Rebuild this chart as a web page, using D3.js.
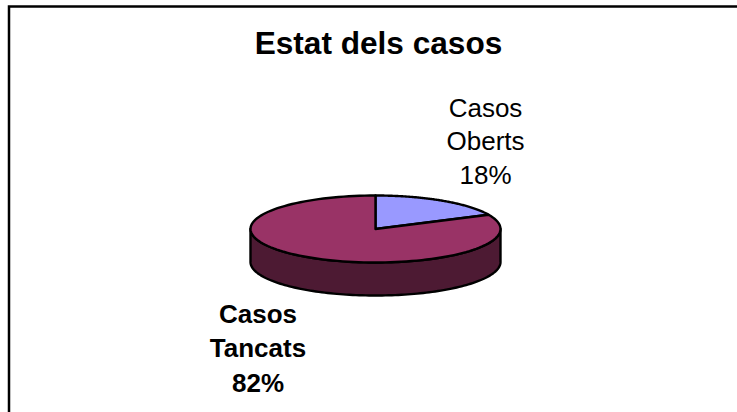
<!DOCTYPE html>
<html><head><meta charset="utf-8">
<style>html,body{margin:0;padding:0;background:#fff}svg{display:block}</style>
<script src="https://cdn.jsdelivr.net/npm/d3@7/dist/d3.min.js"></script></head>
<body><svg id="c" width="737" height="412"></svg>
<script>
const categories = ["Casos Oberts", "Casos Tancats"];
const values = [18, 82];
const percentLabels = ["18%", "82%"];
const title = "Estat dels casos";
const colors = ["#9999ff", "#993366"];
const sideColor = "#4d1a33";

const svg = d3.select("#c");
svg.append("rect").attr("x",9).attr("y",6.5).attr("width",760).attr("height",420)
  .attr("fill","#fff").attr("stroke","#000").attr("stroke-width",2.5);
svg.append("text").attr("x",378.5).attr("y",53.5).attr("text-anchor","middle")
  .attr("font-family","Liberation Sans").attr("font-weight","bold").attr("font-size",31.6).attr("fill","#000").text(title);

const cx=375.5, cy=229, rx=125, ry=33.5, depth=33;
const ex=d3.scaleLinear().domain([-1,1]).range([cx-rx,cx+rx]);
const ey=d3.scaleLinear().domain([-1,1]).range([cy-ry,cy+ry]);
const arcs=d3.pie().sort(null)(values);
const pt=a=>[ex(Math.sin(a)),ey(-Math.cos(a))];
const line=d3.line();
const sample=(a0,a1,n=120)=>d3.range(n+1).map(i=>pt(a0+(a1-a0)*i/n));

const lower=sample(Math.PI/2,Math.PI*1.5);
const rim=lower.concat(lower.slice().reverse().map(p=>[p[0],p[1]+depth]));
svg.append("path").attr("d",line(rim)+"Z").attr("fill",sideColor).attr("stroke","#000").attr("stroke-width",2.4).attr("stroke-linejoin","round");
arcs.forEach((d,i)=>{
  const pts=[[cx,cy]].concat(sample(d.startAngle,d.endAngle));
  svg.append("path").attr("d",line(pts)+"Z").attr("fill",colors[i]).attr("stroke","#000").attr("stroke-width",2.4).attr("stroke-linejoin","round");
});
const label=(lines,x,ys,bold)=>lines.forEach((t,i)=>svg.append("text").attr("x",x).attr("y",ys[i]).attr("text-anchor","middle")
  .attr("font-family","Liberation Sans").attr("font-size",26).attr("font-weight",bold?"bold":"normal").attr("fill","#000").text(t));
const split=s=>s.split(" ");
label([...split(categories[0]),percentLabels[0]],485.5,[116.5,150,184],false);
label([...split(categories[1]),percentLabels[1]],258,[322.5,357,391.5],true);
</script></body></html>
